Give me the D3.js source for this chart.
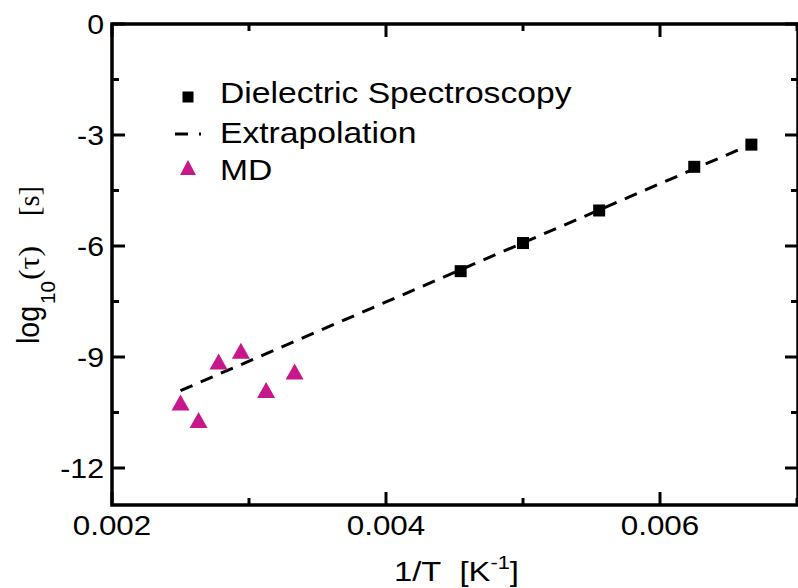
<!DOCTYPE html>
<html>
<head>
<meta charset="utf-8">
<script src="https://cdn.jsdelivr.net/npm/d3@7/dist/d3.min.js"></script>
<style>
  html, body { margin: 0; padding: 0; background: #fff; }
  svg { display: block; }
  text { font-family: "Liberation Sans", Arial, Helvetica, sans-serif; fill: #000; }
</style>
</head>
<body>
<svg id="chart" width="798" height="588"></svg>
<script>
// ---- data ----
const dsInvT = [0.004545, 0.005, 0.005556, 0.00625, 0.006667];
const dsLogTau = [-6.68, -5.92, -5.04, -3.86, -3.26];
const mdInvT = [0.0025, 0.002632, 0.002778, 0.002941, 0.003125, 0.003333];
const mdLogTau = [-10.23, -10.70, -9.12, -8.83, -9.89, -9.39];
const extrapInvT = [0.0025, 0.006667];
const extrapLogTau = [-9.91, -3.25];
const xMajorTicks = [0.002, 0.004, 0.006];
const xMinorTicks = [0.003, 0.005, 0.007];
const xTickLabels = ["0.002", "0.004", "0.006"];
const yMajorTicks = [0, -3, -6, -9, -12];
const yMinorTicks = [-1.5, -4.5, -7.5, -10.5];
const yTickLabels = ["0", "-3", "-6", "-9", "-12"];
const legendLabels = ["Dielectric Spectroscopy", "Extrapolation", "MD"];

const MAGENTA = "#c8178b";

const svg = d3.select("#chart");
const L = 112, R = 798, T = 24, B = 505;
const x = d3.scaleLinear().domain([0.002, 0.007]).range([L, 797]);
const y = d3.scaleLinear().domain([-13, 0]).range([B, T]);

function stretch(sel, sx) {
  sel.each(function() {
    const w = this.getComputedTextLength();
    d3.select(this).attr("textLength", w * sx).attr("lengthAdjust", "spacingAndGlyphs");
  });
}

// ---- frame ----
svg.append("rect").attr("x", L).attr("y", T).attr("width", R - L).attr("height", B - T)
  .attr("fill", "none").attr("stroke", "#000").attr("stroke-width", 3.5);

// ---- ticks ----
const tk = svg.append("g").attr("stroke", "#000").attr("stroke-width", 3);
xMajorTicks.forEach(v => {
  tk.append("line").attr("x1", x(v)).attr("x2", x(v)).attr("y1", B).attr("y2", B - 13);
  tk.append("line").attr("x1", x(v)).attr("x2", x(v)).attr("y1", T).attr("y2", T + 13);
});
xMinorTicks.forEach(v => {
  tk.append("line").attr("x1", x(v)).attr("x2", x(v)).attr("y1", B).attr("y2", B - 7);
  tk.append("line").attr("x1", x(v)).attr("x2", x(v)).attr("y1", T).attr("y2", T + 7);
});
yMajorTicks.forEach(v => {
  tk.append("line").attr("x1", L).attr("x2", L + 13).attr("y1", y(v)).attr("y2", y(v));
  tk.append("line").attr("x1", R).attr("x2", R - 13).attr("y1", y(v)).attr("y2", y(v));
});
yMinorTicks.forEach(v => {
  tk.append("line").attr("x1", L).attr("x2", L + 7).attr("y1", y(v)).attr("y2", y(v));
  tk.append("line").attr("x1", R).attr("x2", R - 7).attr("y1", y(v)).attr("y2", y(v));
});

// ---- tick labels ----
const xl = svg.append("g").selectAll("text").data(xMajorTicks).join("text")
  .attr("x", d => x(d)).attr("y", 535).attr("text-anchor", "middle")
  .attr("font-size", 28).text((d, i) => xTickLabels[i]);
stretch(xl, 1.12);
const yl = svg.append("g").selectAll("text").data(yMajorTicks).join("text")
  .attr("x", 104).attr("y", d => y(d) + 10).attr("text-anchor", "end")
  .attr("font-size", 28).text((d, i) => yTickLabels[i]);
stretch(yl, 1.08);

// ---- axis titles ----
const xt = svg.append("text").attr("x", 394).attr("y", 581).attr("font-size", 27);
xt.append("tspan").text("1/T\u00A0\u00A0[K");
xt.append("tspan").attr("font-size", 18).attr("dy", -12).text("-1");
xt.append("tspan").attr("dy", 12).text("]");
xt.attr("textLength", 125).attr("lengthAdjust", "spacingAndGlyphs");

const serif = "'Liberation Serif', 'Times New Roman', serif";
const yt = svg.append("g").attr("transform", "translate(39,344) rotate(-90)");
yt.append("text").attr("x", 0).attr("y", 0).attr("font-size", 31)
  .attr("textLength", 38).attr("lengthAdjust", "spacingAndGlyphs").text("log");
yt.append("text").attr("x", 40).attr("y", 16).attr("font-size", 21)
  .attr("textLength", 23).attr("lengthAdjust", "spacingAndGlyphs").text("10");
yt.append("text").attr("x", 64).attr("y", 0).attr("font-size", 30)
  .style("font-family", serif)
  .attr("textLength", 34).attr("lengthAdjust", "spacingAndGlyphs").text("(\u03C4)");
yt.append("text").attr("x", 128).attr("y", 0).attr("font-size", 29)
  .style("font-family", serif)
  .attr("textLength", 30).attr("lengthAdjust", "spacingAndGlyphs").text("[s]");

// ---- extrapolation line ----
const line = d3.line().x(d => x(d[0])).y(d => y(d[1]));
svg.append("path").datum(extrapInvT.map((v, i) => [v, extrapLogTau[i]]))
  .attr("d", line).attr("fill", "none").attr("stroke", "#000")
  .attr("stroke-width", 3).attr("stroke-dasharray", "13,9");

// ---- DS squares ----
const sq = 12;
svg.append("g").selectAll("rect").data(dsInvT).join("rect")
  .attr("x", d => x(d) - sq / 2).attr("y", (d, i) => y(dsLogTau[i]) - sq / 2)
  .attr("width", sq).attr("height", sq).attr("fill", "#000");

// ---- MD triangles ----
const tri = (cx, cy, w, h) => `M${cx - w / 2},${cy + h / 2}L${cx},${cy - h / 2}L${cx + w / 2},${cy + h / 2}Z`;
svg.append("g").selectAll("path").data(mdInvT).join("path")
  .attr("d", (d, i) => tri(x(d), y(mdLogTau[i]), 18, 16))
  .attr("fill", MAGENTA);

// ---- legend ----
const lg = svg.append("g");
lg.append("rect").attr("x", 188 - 5.5).attr("y", 97 - 5.5).attr("width", 11).attr("height", 11).attr("fill", "#000");
lg.append("line").attr("x1", 175).attr("x2", 201).attr("y1", 134).attr("y2", 134)
  .attr("stroke", "#000").attr("stroke-width", 3).attr("stroke-dasharray", "13,11");
lg.append("path").attr("d", tri(188, 167.5, 16, 15)).attr("fill", MAGENTA);
const lt = lg.selectAll("text").data(legendLabels).join("text")
  .attr("x", 220).attr("y", (d, i) => [103, 143, 180][i])
  .attr("font-size", 29).text(d => d);
stretch(lt, 1.16);
</script>
</body>
</html>
